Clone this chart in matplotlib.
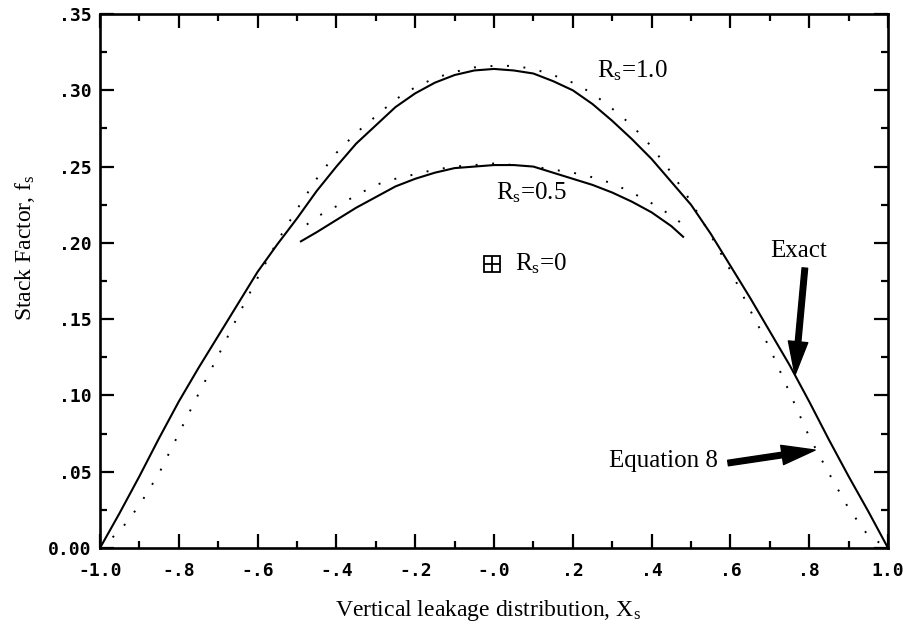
import matplotlib
matplotlib.use("Agg")
import matplotlib.pyplot as plt
from matplotlib.ticker import FixedLocator, MultipleLocator

plt.rcParams["mathtext.fontset"] = "custom"
plt.rcParams["mathtext.rm"] = "Liberation Serif"
plt.rcParams["mathtext.it"] = "Liberation Serif:italic"

# exact solution, R_s = 1.0 (solid)
exact1_x = [-1.0, -0.95, -0.9, -0.85, -0.8, -0.75, -0.7, -0.65, -0.6, -0.55, -0.5,
            -0.45, -0.4, -0.35, -0.3, -0.25, -0.2, -0.15, -0.1, -0.05, 0.0, 0.05, 0.1,
            0.15, 0.2, 0.25, 0.3, 0.35, 0.4, 0.45, 0.5, 0.55, 0.6, 0.65, 0.7, 0.75,
            0.8, 0.85, 0.9, 0.95, 1.0]
exact1_y = [0.0, 0.023, 0.047, 0.072, 0.096, 0.118, 0.139, 0.160, 0.181, 0.199, 0.216,
            0.234, 0.250, 0.265, 0.277, 0.289, 0.298, 0.305, 0.310, 0.313, 0.314, 0.313, 0.311,
            0.306, 0.300, 0.291, 0.280, 0.268, 0.255, 0.240, 0.225, 0.206, 0.185, 0.164, 0.142, 0.120,
            0.096, 0.071, 0.047, 0.024, 0.0]

# equation 8, R_s = 1.0 (dotted)
eq8_1_x = [-1.0, -0.95, -0.9, -0.85, -0.8, -0.75, -0.7, -0.65, -0.6, -0.55, -0.5, -0.45,
           -0.4, -0.35, -0.3, -0.25, -0.2, -0.15, -0.1, -0.05, 0.0, 0.05, 0.1, 0.15, 0.2,
           0.25, 0.3, 0.35, 0.4, 0.45, 0.5, 0.55, 0.6, 0.65, 0.7, 0.75, 0.8, 0.85, 0.9,
           0.95, 1.0]
eq8_1_y = [0.0, 0.011, 0.028, 0.049, 0.075, 0.101, 0.126, 0.152, 0.177, 0.201, 0.222, 0.242,
           0.259, 0.272, 0.283, 0.294, 0.302, 0.308, 0.312, 0.315, 0.316, 0.316, 0.314, 0.310, 0.305,
           0.298, 0.288, 0.277, 0.263, 0.246, 0.227, 0.205, 0.182, 0.156, 0.131, 0.102, 0.073,
           0.049, 0.026, 0.008, 0.0]

# exact solution, R_s = 0.5 (solid)
exact05_x = [-0.49, -0.45, -0.4, -0.35, -0.3, -0.25, -0.2, -0.15, -0.1, -0.05, 0.0, 0.05,
             0.1, 0.15, 0.2, 0.25, 0.3, 0.35, 0.4, 0.45, 0.48]
exact05_y = [0.201, 0.207, 0.215, 0.223, 0.230, 0.237, 0.242, 0.246, 0.249, 0.250, 0.251, 0.251,
             0.250, 0.246, 0.242, 0.238, 0.233, 0.227, 0.220, 0.211, 0.204]

# equation 8, R_s = 0.5 (dotted)
eq8_05_x = [-0.475, -0.45, -0.4, -0.35, -0.3, -0.25, -0.2, -0.15, -0.1, -0.05, 0.0, 0.05,
            0.1, 0.15, 0.2, 0.25, 0.3, 0.35, 0.4, 0.45, 0.475]
eq8_05_y = [0.212, 0.217, 0.224, 0.231, 0.238, 0.242, 0.245, 0.248, 0.250, 0.251, 0.252, 0.251,
            0.250, 0.248, 0.246, 0.243, 0.239, 0.233, 0.226, 0.218, 0.213]

# R_s = 0 point
rs0_x = [-0.005]
rs0_y = [0.186]

xticks = [-1.0, -0.8, -0.6, -0.4, -0.2, 0.0, 0.2, 0.4, 0.6, 0.8, 1.0]
xtick_labels = ["-1.0", "-.8", "-.6", "-.4", "-.2", "-.0", ".2", ".4", ".6", ".8", "1.0"]
yticks = [0.0, 0.05, 0.10, 0.15, 0.20, 0.25, 0.30, 0.35]
ytick_labels = ["0.00", ".05", ".10", ".15", ".20", ".25", ".30", ".35"]

fig = plt.figure(figsize=(9.04, 6.31), dpi=100)
ax = fig.add_axes([0.1106, 0.1315, 0.8717, 0.8463])

ax.plot(exact1_x, exact1_y, color="black", lw=1.5)
ax.plot(exact05_x, exact05_y, color="black", lw=1.5)
ax.plot(eq8_1_x, eq8_1_y, color="black", lw=1.4, linestyle=(0, (1, 7.5)))
ax.plot(eq8_05_x, eq8_05_y, color="black", lw=1.4, linestyle=(0, (1, 7.5)))

ax.plot(rs0_x, rs0_y, marker="s", ms=11, mfc="none", mec="black", mew=1.3, ls="none")
ax.plot(rs0_x, rs0_y, marker="+", ms=11, mec="black", mew=1.3, ls="none")

ax.set_xlim(-1.0, 1.0)
ax.set_ylim(0.0, 0.35)

ax.xaxis.set_major_locator(FixedLocator(xticks))
ax.set_xticklabels(xtick_labels)
ax.xaxis.set_minor_locator(MultipleLocator(0.1))
ax.yaxis.set_major_locator(FixedLocator(yticks))
ax.set_yticklabels(ytick_labels)
ax.yaxis.set_minor_locator(MultipleLocator(0.025))

ax.tick_params(which="both", direction="in", top=True, right=True, width=1.6, color="black")
ax.tick_params(which="major", length=10)
ax.tick_params(which="minor", length=5)
ax.tick_params(axis="x", which="major", pad=10)
ax.tick_params(axis="y", which="major", pad=6)
for lab in ax.get_xticklabels() + ax.get_yticklabels():
    lab.set_family("DejaVu Sans Mono")
    lab.set_fontweight("bold")
    lab.set_fontsize(13)

for sp in ax.spines.values():
    sp.set_linewidth(1.9)

serif = "Liberation Serif"
ax.set_xlabel(r"Vertical leakage distribution, X$_\mathrm{s}$", family=serif, fontsize=17)
ax.xaxis.set_label_coords(0.492, -0.093)
ax.set_ylabel(r"Stack Factor, f$_\mathrm{s}$", family=serif, fontsize=17)
ax.yaxis.set_label_coords(-0.080, 0.562)

ax.text(0.350, 0.313, r"R$_\mathrm{s}$=1.0", family=serif, fontsize=18, ha="center", va="center")
ax.text(0.094, 0.2330, r"R$_\mathrm{s}$=0.5", family=serif, fontsize=18, ha="center", va="center")
ax.text(0.053, 0.1865, r"R$_\mathrm{s}$=0", family=serif, fontsize=18, ha="left", va="center")
ax.text(0.772, 0.191, "Exact", family=serif, fontsize=18, ha="center", va="baseline")
ax.text(0.569, 0.057, "Equation 8", family=serif, fontsize=18, ha="right", va="center")

arrow = dict(arrowstyle="simple,head_length=1.2,head_width=0.7,tail_width=0.2",
             mutation_scale=20, color="black", shrinkA=0, shrinkB=0)
ax.annotate("", xy=(0.764, 0.1134), xytext=(0.789, 0.1835), arrowprops=arrow)
ax.annotate("", xy=(0.815, 0.0642), xytext=(0.594, 0.0557), arrowprops=arrow)

fig.savefig("out.png", dpi=100)
